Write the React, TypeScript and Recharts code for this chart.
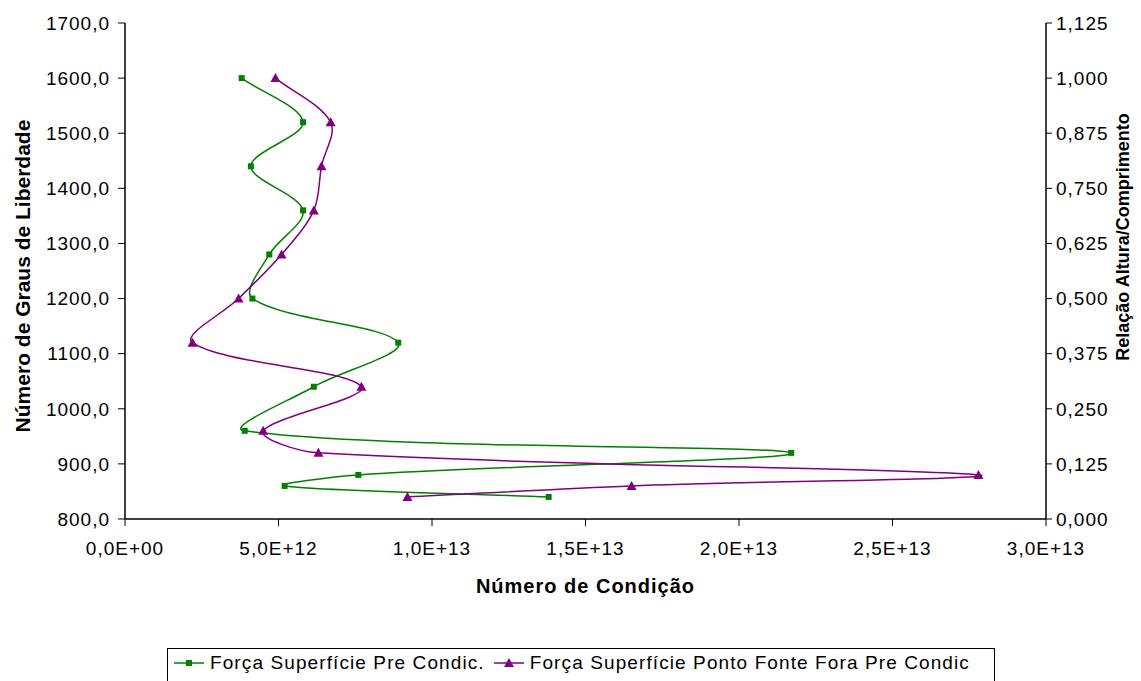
import { Legend, Scatter, ScatterChart, XAxis, YAxis } from "recharts";

// Número de graus de liberdade (eixo vertical)
const grausLiberdade = [1600, 1520, 1440, 1360, 1280, 1200, 1120, 1040, 960, 920, 880, 860, 840];
// Número de condição, série "Força Superfície Pre Condic."
const condPreCondic = [
  3.8e12, 5.8e12, 4.1e12, 5.8e12, 4.7e12, 4.15e12, 8.9e12, 6.15e12, 3.9e12, 21.7e12, 7.6e12, 5.2e12, 13.8e12,
];
// Número de condição, série "Força Superfície Ponto Fonte Fora Pre Condic"
const condPontoFonte = [
  4.9e12, 6.7e12, 6.4e12, 6.15e12, 5.1e12, 3.7e12, 2.2e12, 7.7e12, 4.5e12, 6.3e12, 27.8e12, 16.5e12, 9.2e12,
];

const xTicks = [0, 5e12, 10e12, 15e12, 20e12, 25e12, 30e12];
const yTicks = [800, 900, 1000, 1100, 1200, 1300, 1400, 1500, 1600, 1700];
const yRightTicks = [0, 0.125, 0.25, 0.375, 0.5, 0.625, 0.75, 0.875, 1, 1.125];

const GREEN = "#008000";
const PURPLE = "#800080";
const FONT = "'Liberation Sans', Arial, sans-serif";

const preData = grausLiberdade.map((g, i) => ({ x: condPreCondic[i], y: g }));
const fonteData = grausLiberdade.map((g, i) => ({ x: condPontoFonte[i], y: g }));

const fmtSci = (v: number) => {
  const [m, e] = v.toExponential(1).split("e");
  const exp = parseInt(e, 10);
  return `${m.replace(".", ",")}E${exp < 0 ? "-" : "+"}${String(Math.abs(exp)).padStart(2, "0")}`;
};
const fmtLeft = (v: number) => v.toFixed(1).replace(".", ",");
const fmtRight = (v: number) => v.toFixed(3).replace(".", ",");

// smoothed line like Excel's scatter "smoothed line": bezier with tangents
// scaled by the length of each neighbouring segment
const smoothCurve = (context: any) => {
  let pts: number[][] = [];
  return {
    areaStart() {},
    areaEnd() {},
    lineStart() {
      pts = [];
    },
    point(x: number, y: number) {
      pts.push([+x, +y]);
    },
    lineEnd() {
      if (!pts.length) return;
      const dist = (a: number[], b: number[]) => Math.hypot(b[0] - a[0], b[1] - a[1]);
      // tangent (per unit length) at each point
      const tan = pts.map((p, i) => {
        const a = pts[i - 1] || p;
        const b = pts[i + 1] || p;
        const d = dist(a, p) + dist(p, b) || 1;
        return [(b[0] - a[0]) / d, (b[1] - a[1]) / d];
      });
      context.moveTo(pts[0][0], pts[0][1]);
      for (let i = 0; i < pts.length - 1; i++) {
        const p1 = pts[i];
        const p2 = pts[i + 1];
        const len = dist(p1, p2) / 3;
        context.bezierCurveTo(
          p1[0] + tan[i][0] * len,
          p1[1] + tan[i][1] * len,
          p2[0] - tan[i + 1][0] * len,
          p2[1] - tan[i + 1][1] * len,
          p2[0],
          p2[1]
        );
      }
    },
  };
};

const SquareDot = (p: any) => <rect x={p.cx - 3} y={p.cy - 3} width={6} height={6} fill={GREEN} />;
const TriangleDot = (p: any) => (
  <polygon
    points={`${p.cx},${p.cy - 5} ${p.cx + 5},${p.cy + 4} ${p.cx - 5},${p.cy + 4}`}
    fill={PURPLE}
  />
);

const tickStyle = { fill: "#000", fontSize: 19, fontFamily: FONT, letterSpacing: 1 };

function LegendIcon({ color, kind }: { color: string; kind: "square" | "triangle" }) {
  return (
    <svg width={32} height={12} style={{ marginRight: 5, flexShrink: 0 }}>
      <line x1={1} y1={6} x2={31} y2={6} stroke={color} strokeWidth={1.5} />
      {kind === "square" ? (
        <rect x={13} y={3} width={6} height={6} fill={color} />
      ) : (
        <polygon points="16,1 21,10 11,10" fill={color} />
      )}
    </svg>
  );
}

function LegendBox() {
  return (
    <div
      style={{
        boxSizing: "border-box",
        height: 34,
        width: 828,
        border: "1px solid #000",
        background: "#fff",
        display: "flex",
        alignItems: "center",
        paddingLeft: 5,
        paddingBottom: 4,
        fontFamily: FONT,
        fontSize: 19,
        letterSpacing: 1.1,
        whiteSpace: "nowrap",
        color: "#000",
      }}
    >
      <LegendIcon color={GREEN} kind="square" />
      <span style={{ marginRight: 8 }}>Força Superfície Pre Condic.</span>
      <LegendIcon color={PURPLE} kind="triangle" />
      <span>Força Superfície Ponto Fonte Fora Pre Condic</span>
    </div>
  );
}

const titleStyle = { fontFamily: FONT, fontWeight: "bold" as const, fill: "#000" };

export default function App() {
  return (
    <div style={{ position: "absolute", left: 0, top: 0, width: 1141, height: 681, background: "#fff" }}>
      <ScatterChart width={1141} height={681} margin={{ top: 23, right: 15, bottom: 48, left: 12 }}>
        <XAxis
          type="number"
          dataKey="x"
          domain={[0, 3e13]}
          ticks={xTicks}
          interval={0}
          tickFormatter={fmtSci}
          tick={tickStyle}
          tickSize={7}
          tickMargin={16}
          height={80}
          axisLine={{ stroke: "#000", strokeWidth: 1.5 }}
          tickLine={{ stroke: "#000" }}
          label={{
            content: (p: any) => (
              <text
                x={p.viewBox.x + p.viewBox.width / 2}
                y={p.viewBox.y + 74}
                textAnchor="middle"
                fontSize={20}
                letterSpacing={1}
                {...titleStyle}
              >
                Número de Condição
              </text>
            ),
          }}
        />
        <YAxis
          yAxisId="left"
          type="number"
          dataKey="y"
          domain={[800, 1700]}
          ticks={yTicks}
          interval={0}
          tickFormatter={fmtLeft}
          tick={tickStyle}
          tickSize={7}
          tickMargin={8}
          width={113}
          axisLine={{ stroke: "#000", strokeWidth: 1.5 }}
          tickLine={{ stroke: "#000" }}
          label={{
            content: (p: any) => {
              const cx = p.viewBox.x + 10;
              const cy = p.viewBox.y + p.viewBox.height / 2 + 5;
              return (
                <text
                  x={cx}
                  y={cy}
                  transform={`rotate(-90 ${cx} ${cy})`}
                  textAnchor="middle"
                  dominantBaseline="central"
                  fontSize={21}
                  {...titleStyle}
                >
                  Número de Graus de Liberdade
                </text>
              );
            },
          }}
        />
        <YAxis
          yAxisId="right"
          orientation="right"
          type="number"
          domain={[0, 1.125]}
          allowDataOverflow
          ticks={yRightTicks}
          interval={0}
          tickFormatter={fmtRight}
          tick={tickStyle}
          tickSize={6}
          tickMargin={4}
          width={80}
          axisLine={{ stroke: "#000", strokeWidth: 1.5 }}
          tickLine={{ stroke: "#000" }}
          label={{
            content: (p: any) => {
              const cx = p.viewBox.x + p.viewBox.width - 3;
              const cy = p.viewBox.y + p.viewBox.height / 2 - 34;
              return (
                <text
                  x={cx}
                  y={cy}
                  transform={`rotate(-90 ${cx} ${cy})`}
                  textAnchor="middle"
                  dominantBaseline="central"
                  fontSize={18}
                  {...titleStyle}
                >
                  Relação Altura/Comprimento
                </text>
              );
            },
          }}
        />
        <Legend
          verticalAlign="bottom"
          content={() => <LegendBox />}
          wrapperStyle={{ left: 167, top: 648, bottom: "auto", width: 828 }}
        />
        <Scatter
          name="Força Superfície Pre Condic."
          yAxisId="left"
          data={preData}
          fill={GREEN}
          line={{ stroke: GREEN, strokeWidth: 1.5 }}
          lineType="joint"
          lineJointType={smoothCurve as any}
          shape={SquareDot}
          isAnimationActive={false}
        />
        <Scatter
          name="Força Superfície Ponto Fonte Fora Pre Condic"
          yAxisId="left"
          data={fonteData}
          fill={PURPLE}
          line={{ stroke: PURPLE, strokeWidth: 1.5 }}
          lineType="joint"
          lineJointType={smoothCurve as any}
          shape={TriangleDot}
          isAnimationActive={false}
        />
      </ScatterChart>
    </div>
  );
}
